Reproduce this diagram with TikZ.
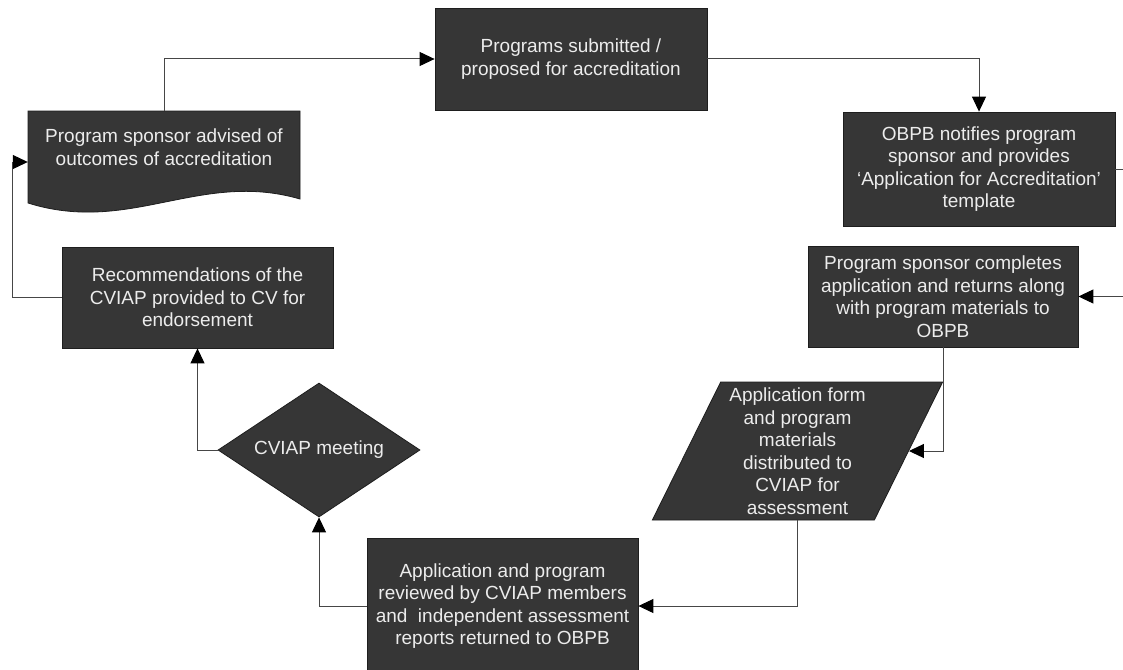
\documentclass[tikz,border=0pt]{standalone}
\usepackage{fontspec}
\setmainfont{Liberation Sans}
\usetikzlibrary{arrows.meta,shapes.geometric}
\definecolor{boxfill}{RGB}{54,54,54}
\definecolor{boxline}{RGB}{30,30,30}
\definecolor{boxtext}{RGB}{236,236,236}
\definecolor{linecol}{RGB}{70,70,70}
\begin{document}
\begin{tikzpicture}[x=1pt,y=-1pt,
  txt/.style={text=boxtext, align=center, inner sep=0pt, font=\fontsize{19}{22.5}\selectfont},
  box/.style={txt, rectangle, fill=boxfill, draw=boxline, line width=0.8pt},
  conn/.style={draw=linecol, line width=1pt, -{Triangle[length=15pt,width=14pt,color=black]}}]
\useasboundingbox (0,0) rectangle (1123,669);
\fill[white] (0,0) rectangle (1123,669);
% document shape outline
\filldraw[fill=boxfill, draw=boxline, line width=0.8pt]
  (28,111) -- (300,111) -- (300,199) .. controls (200,170) and (130,235) .. (28,203) -- cycle;
\node[txt, rectangle, minimum width=272pt, minimum height=102pt, text depth=30pt] (doc) at (164,162)
  {Program sponsor advised of\\outcomes of accreditation};
\node[box, minimum width=272pt, minimum height=102pt] (submit) at (571,59)
  {Programs submitted /\\proposed for accreditation};
\node[box, minimum width=272pt, minimum height=114pt] (obpb) at (979,169)
  {OBPB notifies program\\sponsor and provides\\‘Application for Accreditation’\\template};
\node[box, minimum width=270pt, minimum height=101pt] (complete) at (943,296.5)
  {Program sponsor completes\\application and returns along\\with program materials to\\OBPB};
\node[txt, trapezium, trapezium left angle=64.4, trapezium right angle=115.6, trapezium stretches=true,
  minimum width=291pt, minimum height=138pt, fill=boxfill, draw=boxline, line width=0.8pt] (dist) at (797.5,451)
  {Application form\\and program\\materials\\distributed to\\CVIAP for\\assessment};
\node[box, minimum width=271pt, minimum height=136pt] (review) at (502.5,606)
  {Application and program\\reviewed by CVIAP members\\and~ independent assessment\\reports returned to OBPB};
\node[txt, diamond, aspect=1.5, minimum width=202pt, minimum height=134pt, fill=boxfill, draw=boxline, line width=0.8pt] (meet) at (319,450)
  {CVIAP meeting};
\node[box, minimum width=271pt, minimum height=101pt] (rec) at (197.5,297.5)
  {Recommendations of the\\CVIAP provided to CV for\\endorsement};
\coordinate (rt) at (1124,0);
\coordinate (lft) at (12,0);
% connectors
\draw[conn] (submit.east) -| (obpb.north);
\draw[conn] (obpb.east) -- (obpb.east -| rt) |- (complete.east);
\draw[conn] (complete.south) |- (dist.east);
\draw[conn] (dist.center |- dist.south) |- (review.east);
\draw[conn] (review.west) -| (meet.south);
\draw[conn] (meet.west) -| (rec.south);
\draw[conn] (rec.west) -- (rec.west -| lft) |- (doc.west);
\draw[conn] (doc.north) |- (submit.west);
\end{tikzpicture}
\end{document}
